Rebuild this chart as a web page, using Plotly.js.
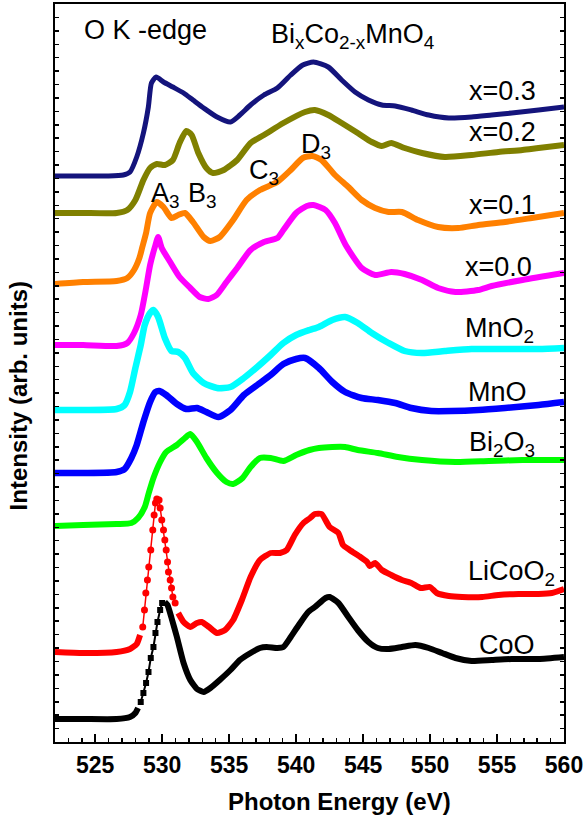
<!DOCTYPE html>
<html>
<head>
<meta charset="utf-8">
<script src="https://cdn.plot.ly/plotly-3.0.1.min.js"></script>
<style>html,body{margin:0;padding:0;background:#fff;}#chart{width:584px;height:819px;}</style>
</head>
<body>
<div id="chart"></div>
<script>
// ---- data (photon energy in eV, intensity in arb. units incl. vertical offset) ----
const energyX03 = [522,524,526,527.1,527.6,528.1,528.6,528.97,529.2,529.55,530.1,530.8,531.6,532.3,533.1,534.1,535.1,535.8,536.6,537.6,538.6,539.6,540.5,541.3,542.4,543.4,544.4,545.4,546.4,547.4,548.6,549.9,551.4,553.1,554.6,556.1,558.1,560];
const intensityX03 = [566,566,566,567,570,585,609,635,659,665,660,655,649,642,634,625,620,627,637,647,654,667,677,680,675,662,650,642,637,636,632,627,624,625,627,629,632,635];

const energyX02 = [522,524,526.6,527.4,528.0,528.6,529.1,529.6,530.2,530.8,531.3,531.8,532.2,532.7,533.3,533.8,534.6,535.6,536.6,537.6,539.05,540.67,541.4,542.4,543.4,544.6,545.65,546.4,547.1,548.1,549.4,551.1,553.1,555.1,556.9,558.1,560];
const intensityX02 = [529,529,529,532,542,562,574,578,577,582,599,611,607,589,574,569,572,582,599,607,619,630,632,627,619,609,600,596,599,594,589,585,587,590,592,594,597];

const energyX01 = [522,524.1,526.6,527.4,527.9,528.3,528.5,528.8,529.1,529.6,530.1,530.7,531.2,531.7,532.3,533.1,533.6,534.3,535.3,536.3,537.3,538.6,539.6,540.5,541.2,541.9,542.9,543.9,544.9,545.9,546.9,547.9,549.1,550.6,552.1,553.6,555.6,557.6,560];
const intensityX01 = [458,460,461,464,472,484,494,509,529,540,535,524,527,529,520,505,501,505,522,542,552,560,572,584,586,582,567,555,542,534,530,530,522,515,514,517,520,524,529];

const energyX00 = [522,524.1,526.6,527.4,527.9,528.4,528.8,529.1,529.5,529.7,529.97,530.6,531.3,532.1,532.8,533.45,534.07,534.8,535.6,536.6,537.6,538.6,539.05,540.0,540.8,541.3,542.2,542.9,543.7,544.9,545.9,547.1,548.1,549.4,550.6,551.9,553.6,554.6,556.9,560];
const intensityX00 = [397,397,396,399,409,427,454,477,497,505,494,480,465,454,445,443,447,460,474,492,500,504,512,529,536,537,532,519,497,474,467,470,468,462,454,450,452,456,462,469];

const energyMnO2 = [522,524.1,526.6,527.2,527.6,528.0,528.4,528.7,529.1,529.35,529.7,530.2,530.7,531.2,531.7,532.3,533.1,534.1,535.1,536.1,537.1,538.1,539.05,540.0,541.0,541.7,542.7,543.66,544.6,545.65,546.9,548.1,549.4,551.1,553.1,555.6,558.1,560];
const intensityMnO2 = [332,332,333,337,350,374,397,417,429,432,425,404,391,390,384,369,359,354,355,364,375,387,399,407,412,415,422,425,419,409,399,391,389,391,393,393,393,394];

const energyMnO = [522,524.1,526.6,527.2,527.7,528.1,528.6,529.1,529.5,529.8,530.3,531.1,531.8,532.6,533.3,534.2,535.1,536.1,537.1,538.1,539.05,540.0,540.67,541.7,542.7,543.66,544.9,546.1,547.4,548.6,550.1,551.6,553.6,555.6,558.1,560];
const intensityMnO = [269,269,270,273,284,297,320,340,350,351,347,338,333,334,330,325,332,347,357,367,378,383,384,374,360,350,344,342,339,334,331,331,332,334,337,340];

const energyBi2O3 = [522,524.1,526.6,527.7,528.2,528.7,529.0,529.35,529.85,530.3,531.1,531.7,532.1,532.6,533.3,534.1,534.8,535.3,536.0,536.6,537.3,538.1,539.05,540.0,541.0,541.7,542.7,543.66,544.6,546.1,547.6,549.4,551.9,554.4,556.9,560];
const intensityBi2O3 = [216,217,218,219,224,235,249,264,280,290,297,304,308,300,284,269,260,258,264,275,284,284,281,287,292,294,295,295,292,289,285,282,280,281,282,282];

const energyLiCoO2 = [522,524.1,526.6,527.6,528.1,528.35,528.55,528.68,528.78,528.9,529.0,529.15,529.3,529.4,529.5,529.6,529.77,529.85,529.97,530.1,530.2,530.3,530.4,530.47,530.6,530.7,530.8,530.97,531.2,531.6,532.1,532.6,532.96,533.5,534.1,534.7,535.3,535.95,536.6,537.3,538.1,538.8,539.3,539.9,540.55,541.05,541.4,541.9,542.5,543.16,543.5,544.0,544.8,545.3,545.5,545.9,546.4,547.1,547.9,548.6,549.3,550.0,550.5,551.4,552.4,553.9,555.1,556.6,558.1,559.1,560];
const intensityLiCoO2 = [90,89,90,93,98,107,115,132,149,162,175,192,212,227,239,243,242,234,222,212,202,192,180,170,162,154,145,139,129,120,115,119,120,115,109,112,122,142,165,182,189,189,192,207,219,224,228,228,215,209,197,192,185,180,176,179,172,167,162,159,154,155,149,146,145,145,147,148,148,149,153];

const energyCoO = [522,524.1,526.6,527.6,528.0,528.2,528.4,528.6,528.8,528.98,529.15,529.35,529.5,529.65,529.85,530.0,530.2,530.4,530.7,531.1,531.6,532.1,532.6,533.1,533.6,534.3,535.1,535.8,536.6,537.3,537.8,538.6,539.05,539.6,540.2,540.9,541.4,542.2,542.5,543.16,543.9,544.6,545.4,546.1,546.9,547.9,548.9,549.9,550.9,551.9,553.1,554.6,556.1,558.1,560];
const intensityCoO = [23,23,23,25,29,34,40,49,59,70,84,95,109,120,132,139,140,137,124,105,79,62,53,50,54,62,72,82,89,94,95,94,95,105,117,130,135,144,145,139,125,112,100,94,93,95,97,94,89,84,81,82,83,83,85];

const xTickVals = [525,530,535,540,545,550,555,560];
const xTickText = ['525','530','535','540','545','550','555','560'];

// ---- traces ----
const FONT = 'Liberation Sans, Arial, Helvetica, sans-serif';
function lineTrace(x, y, color, width) {
  return {x: x, y: y, type: 'scatter', mode: 'lines', line: {color: color, width: width, shape: 'spline', smoothing: 0.6}, hoverinfo: 'skip', showlegend: false};
}
// split a series: thick line outside window, thin line + markers inside it
function splitTraces(x, y, win, color, symbol, msize, thinWidth) {
  const yThick = y.map((v, i) => (x[i] > win[0] && x[i] < win[1]) ? null : v);
  const xs = [], ys = [];
  x.forEach((v, i) => { if (v >= win[0] && v <= win[1]) { xs.push(v); ys.push(y[i]); } });
  return [
    {x: x, y: yThick, type: 'scatter', mode: 'lines', connectgaps: false, line: {color: color, width: 6, shape: 'spline', smoothing: 0.5}, hoverinfo: 'skip', showlegend: false},
    {x: xs, y: ys, type: 'scatter', mode: 'lines+markers', line: {color: color, width: thinWidth}, marker: {color: color, symbol: symbol, size: msize}, hoverinfo: 'skip', showlegend: false}
  ];
}

const data = [
  lineTrace(energyX03, intensityX03, '#14147c', 5),
  lineTrace(energyX02, intensityX02, '#808000', 6),
  lineTrace(energyX01, intensityX01, '#ff8000', 6),
  lineTrace(energyX00, intensityX00, '#ff00ff', 6),
  lineTrace(energyMnO2, intensityMnO2, '#00ffff', 6.5),
  lineTrace(energyMnO, intensityMnO, '#0000ff', 6.5),
  lineTrace(energyBi2O3, intensityBi2O3, '#00ff00', 6),
  ...splitTraces(energyLiCoO2, intensityLiCoO2, [528.5, 531.0], '#ff0000', 'circle', 7, 1.5),
  ...splitTraces(energyCoO, intensityCoO, [528.3, 530.1], '#000000', 'square', 6, 2)
];

function label(text, x, y, size) {
  return {text: text, x: x, y: y, xref: 'x', yref: 'y', xanchor: 'left', yanchor: 'middle', showarrow: false, font: {family: FONT, size: size || 27, color: '#000'}};
}

const layout = {
  width: 584, height: 819,
  margin: {l: 55, r: 20, t: 4, b: 77},
  paper_bgcolor: '#fff', plot_bgcolor: '#fff',
  showlegend: false,
  xaxis: {
    range: [522, 560], showgrid: false, zeroline: false,
    tickmode: 'array', tickvals: xTickVals, ticktext: xTickText,
    ticks: 'inside', ticklen: 8, tickwidth: 2, tickcolor: '#000',
    minor: {dtick: 1, tick0: 522, ticks: 'inside', ticklen: 4, tickwidth: 1.5, tickcolor: '#000'},
    showline: true, linecolor: '#000', linewidth: 2, mirror: true,
    tickfont: {family: FONT, size: 23, color: '#000', weight: 'bold'},
    ticklabelstandoff: 1
  },
  yaxis: {
    range: [0, 738], showgrid: false, zeroline: false,
    tickmode: 'linear', tick0: 0, dtick: 738 / 55,
    ticks: 'inside', ticklen: 4, tickwidth: 1.5, tickcolor: '#000',
    showticklabels: false,
    showline: true, linecolor: '#000', linewidth: 2, mirror: 'ticks'
  },
  annotations: [
    {text: '<b>Photon Energy (eV)</b>', xref: 'paper', yref: 'paper', x: 0.558, y: -0.0813, showarrow: false, xanchor: 'center', yanchor: 'middle', font: {family: FONT, size: 24, color: '#000'}},
    {text: '<b>Intensity (arb. units)</b>', xref: 'paper', yref: 'paper', x: -0.0717, y: 0.469, textangle: -90, showarrow: false, xanchor: 'center', yanchor: 'middle', font: {family: FONT, size: 24, color: '#000'}},
    label('O K -edge', 524.0, 712, 27),
    label('Bi<sub>x</sub>Co<sub>2-x</sub>MnO<sub>4</sub>', 538.0, 706, 27),
    label('x=0.3', 552.75, 651),
    label('x=0.2', 552.75, 610),
    label('x=0.1', 552.75, 537),
    label('x=0.0', 552.45, 475),
    label('MnO<sub>2</sub>', 552.45, 412),
    label('MnO', 552.7, 350),
    label('Bi<sub>2</sub>O<sub>3</sub>', 552.75, 298),
    label('LiCoO<sub>2</sub>', 552.7, 169),
    label('CoO', 553.5, 97),
    label('A<sub>3</sub>', 529.0, 547),
    label('B<sub>3</sub>', 531.75, 547),
    label('C<sub>3</sub>', 536.3, 570),
    label('D<sub>3</sub>', 540.2, 596)
  ]
};

Plotly.newPlot('chart', data, layout, {staticPlot: true, displayModeBar: false});
</script>
</body>
</html>
